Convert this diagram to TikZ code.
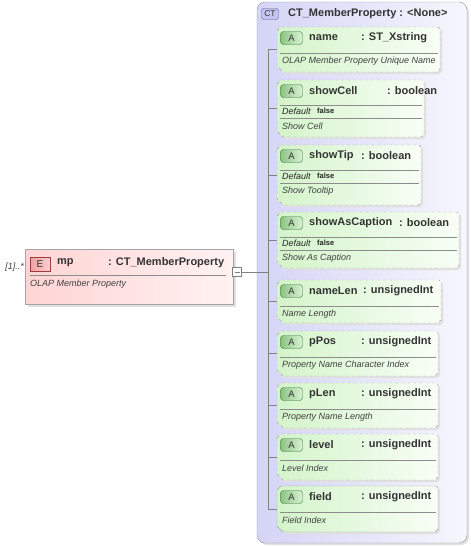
\documentclass[tikz,border=0pt]{standalone}
\usepackage{fontspec}
\setmainfont{Liberation Sans}

\definecolor{ctfill}{RGB}{212,212,246}
\definecolor{ctline}{RGB}{150,150,170}
\definecolor{ctbadge}{RGB}{196,196,240}
\definecolor{ctbadgeline}{RGB}{90,90,150}
\definecolor{attrfill}{RGB}{212,244,202}
\definecolor{attrfillb}{RGB}{248,254,246}
\definecolor{attrline}{RGB}{165,165,165}
\definecolor{abadgefill}{RGB}{160,222,150}
\definecolor{abadgeline}{RGB}{60,120,60}
\definecolor{elfill}{RGB}{255,212,212}
\definecolor{elfillb}{RGB}{255,242,242}
\definecolor{ebadgefill}{RGB}{242,160,160}
\definecolor{ebadgeline}{RGB}{160,60,60}
\definecolor{conn}{RGB}{128,128,128}

\tikzset{
  title/.style={anchor=west, inner sep=0pt, text=black!80,
    font=\fontsize{11}{13}\selectfont\bfseries},
  descr/.style={anchor=west, inner sep=0pt, text=black!75,
    font=\fontsize{9}{11}\selectfont\itshape},
  dflt/.style={anchor=west, inner sep=0pt, text=black!85,
    font=\fontsize{9}{11}\selectfont\itshape},
  dfltval/.style={anchor=west, inner sep=0pt, text=black!85,
    font=\fontsize{7.5}{9}\selectfont\bfseries},
  abadge/.style={draw=abadgeline, left color=abadgefill!80!black!60!abadgefill,
    right color=abadgefill!40, rounded corners=3pt, minimum width=22pt,
    minimum height=13pt, inner sep=0pt, font=\fontsize{9.5}{11}\selectfont, text=black!80},
  ebadge/.style={draw=ebadgeline, left color=ebadgefill, right color=ebadgefill!50,
    minimum width=20pt, minimum height=14pt, inner sep=0pt,
    font=\fontsize{10}{12}\selectfont, text=black!80},
  ctbadgest/.style={draw=ctbadgeline, fill=ctbadge, rounded corners=2.5pt,
    minimum width=17pt, minimum height=11pt, inner sep=0pt,
    font=\fontsize{8.5}{10}\selectfont, text=black!80},
  attrbox/.style={draw=attrline, left color=attrfill, right color=attrfillb},
  sepline/.style={draw=black!45, line width=0.6pt},
  connline/.style={draw=conn, line width=0.6pt},
  shadowc/.style={fill=black!12}
}

\begin{document}
\begin{tikzpicture}[x=1pt,y=-1pt]
\useasboundingbox (0,0) rectangle (471,546);

% ===== Complex type frame =====
\fill[shadowc, rounded corners=8pt] (259,4) rectangle (469,545);
\shadedraw[left color=ctfill, right color=ctfill!20, draw=ctline, rounded corners=8pt]
  (257,2) rectangle (467,543);
\node[ctbadgest] (ct-badge) at (270,14) {CT};
\node[title] (ct-name) at (288,14) {CT\_MemberProperty : <None>};

% ===== Element mp =====
\fill[shadowc] (28,252) rectangle (236,307);
\shadedraw[left color=elfill, right color=elfillb, draw=attrline] (25,249) rectangle (233,304);
\node[ebadge] (mp-badge) at (40,264) {E};
\node[title] (mp-name) at (57,263) {mp};
\node[title] (mp-type) at (108,263) {: CT\_MemberProperty};
\draw[sepline] (30,275) -- (226,275);
\node[descr] (mp-desc) at (30,284) {OLAP Member Property};
\node[descr, anchor=east] (mp-occ) at (24,267) {[1]..*};

% ===== Connector =====
\node[draw=conn, fill=white, minimum size=9pt, inner sep=0pt] (minus) at (237,272) {};
\draw[connline] ([xshift=-2.5pt]minus.center) -- ([xshift=2.5pt]minus.center);
\coordinate (bus-mid) at (268,272);
\coordinate (bus-top) at (268,49.5);
\coordinate (bus-bot) at (268,509);
\draw[connline] (minus.east) -- (bus-mid);
\draw[connline] (bus-top) -- (bus-bot);

% ===== Attributes =====
\foreach \nm/\ty/\tx/\T/\B/\R/\ds/\st in {
  name/ST\_Xstring/361/27/72/440/OLAP Member Property Unique Name/dashed,
  nameLen/unsignedInt/363/280/323/441/Name Length/dashed,
  pPos/unsignedInt/361/331/376/438/Property Name Character Index/dashed,
  pLen/unsignedInt/361/383/428/438/Property Name Length/dashed,
  level/unsignedInt/361/434/480/438/Level Index/dashed,
  field/unsignedInt/361/486/532/438/Field Index/solid} {
    \fill[shadowc, xshift=2pt, yshift=-2pt] (277,\T+4) -- (281,\T) -- (\R-2,\T) -- (\R,\T+2)
      -- (\R,\B-3) -- (\R-3,\B) -- (283,\B) -- (277,\B-6) -- cycle;
    \path[attrbox, \st] (277,\T+4) -- (281,\T) -- (\R-2,\T) -- (\R,\T+2)
      -- (\R,\B-3) -- (\R-3,\B) -- (283,\B) -- (277,\B-6) -- cycle;
    \node[abadge] (\nm-badge) at (291.5,\T+11) {A};
    \node[title] (\nm-name) at (309,\T+11) {\nm};
    \node[title] (\nm-type) at (\tx,\T+11) {: \ty};
    \draw[sepline] (280,\T+26) -- (\R-2,\T+26);
    \node[descr] (\nm-desc) at (282,\T+34.5) {\ds};
    \coordinate (\nm-in) at (277,{(\T+\B)/2});
    \coordinate (\nm-tap) at (268,{(\T+\B)/2});
    \draw[connline] (\nm-tap) -- (\nm-in);
}

% ===== Attributes with default =====
\foreach \nm/\ty/\tx/\T/\B/\R/\ds in {
  showCell/boolean/387/80/137/424/Show Cell,
  showTip/boolean/361/145/205/421/Show Tooltip,
  showAsCaption/boolean/399/212/268/459/Show As Caption} {
    \fill[shadowc, xshift=2pt, yshift=-2pt] (277,\T+4) -- (281,\T) -- (\R-2,\T) -- (\R,\T+2)
      -- (\R,\B-3) -- (\R-3,\B) -- (283,\B) -- (277,\B-6) -- cycle;
    \path[attrbox, dashed] (277,\T+4) -- (281,\T) -- (\R-2,\T) -- (\R,\T+2)
      -- (\R,\B-3) -- (\R-3,\B) -- (283,\B) -- (277,\B-6) -- cycle;
    \node[abadge] (\nm-badge) at (291.5,\T+11) {A};
    \node[title] (\nm-name) at (309,\T+11) {\nm};
    \node[title] (\nm-type) at (\tx,\T+11) {: \ty};
    \draw[sepline] (280,\T+25) -- (\R-2,\T+25);
    \node[dflt] (\nm-dlabel) at (282,\T+31.5) {Default};
    \node[dfltval] (\nm-dval) at (317,\T+31) {false};
    \draw[sepline] (280,\T+38) -- (\R-2,\T+38);
    \node[descr] (\nm-desc) at (282,\T+46.5) {\ds};
    \coordinate (\nm-in) at (277,{(\T+\B)/2});
    \coordinate (\nm-tap) at (268,{(\T+\B)/2});
    \draw[connline] (\nm-tap) -- (\nm-in);
}

\end{tikzpicture}
\end{document}
